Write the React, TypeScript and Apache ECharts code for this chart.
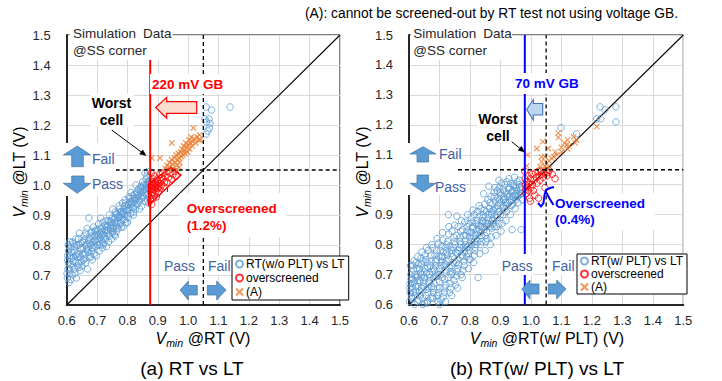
import React, { useEffect, useRef } from "react";
import * as echarts from "echarts";

const FONT = '"Liberation Sans", Arial, Helvetica, sans-serif';

const AXIS_MIN = 0.6;
const AXIS_MAX = 1.5;
const AXIS_STEP = 0.1;
const FAIL_LIMIT = 1.05;
const LEFT_GB_LINE = 0.875;
const RIGHT_GB_LINE = 0.98;
const DIAGONAL = [[0.6, 0.6], [1.5, 1.5]];

const leftBlue: number[][] = [
  [0.602,0.69],[0.604,0.72],[0.603,0.75],[0.606,0.78],[0.605,0.80],[0.608,0.675],[0.61,0.705],[0.612,0.735],[0.611,0.765],[0.614,0.79],
  [0.618,0.70],[0.62,0.73],[0.622,0.76],[0.619,0.81],[0.624,0.78],[0.626,0.72],[0.628,0.745],[0.63,0.82],[0.632,0.69],[0.634,0.77],
  [0.638,0.74],[0.64,0.80],[0.642,0.84],[0.644,0.715],[0.646,0.76],[0.648,0.785],[0.65,0.73],[0.652,0.81],[0.655,0.75],[0.657,0.83],
  [0.66,0.77],[0.662,0.74],[0.664,0.80],[0.667,0.855],[0.669,0.72],[0.671,0.79],[0.673,0.89],[0.675,0.76],[0.677,0.82],[0.68,0.84],
  [0.682,0.78],[0.684,0.75],[0.686,0.81],[0.688,0.86],[0.69,0.77],[0.692,0.83],[0.694,0.795],[0.696,0.85],[0.698,0.765],[0.70,0.82],
  [0.702,0.80],[0.705,0.87],[0.707,0.78],[0.709,0.84],[0.712,0.89],[0.714,0.815],[0.716,0.86],[0.718,0.79],[0.72,0.835],[0.722,0.805],
  [0.725,0.85],[0.727,0.82],[0.729,0.88],[0.731,0.795],[0.733,0.84],[0.735,0.865],[0.738,0.81],[0.74,0.90],[0.742,0.83],[0.744,0.855],
  [0.746,0.875],[0.748,0.82],[0.75,0.845],[0.752,0.92],[0.755,0.86],[0.757,0.835],[0.76,0.89],[0.762,0.87],[0.764,0.845],[0.766,0.905],
  [0.768,0.88],[0.77,0.855],[0.772,0.93],[0.775,0.895],[0.777,0.87],[0.78,0.91],[0.782,0.885],[0.784,0.94],[0.786,0.86],[0.788,0.92],
  [0.79,0.90],[0.792,0.95],[0.795,0.875],[0.797,0.93],[0.80,0.915],[0.802,0.89],[0.805,0.96],[0.807,0.94],[0.81,0.905],[0.812,0.975],
  [0.815,0.925],[0.817,0.95],[0.82,0.90],[0.822,0.94],[0.824,0.97],[0.826,0.92],[0.828,1.0],[0.83,0.955],[0.832,0.935],[0.835,0.985],
  [0.837,0.96],[0.84,0.945],[0.842,0.99],[0.845,0.975],[0.847,0.93],[0.85,1.01],[0.852,0.96],[0.855,0.985],[0.857,0.945],[0.86,1.0],
  [0.862,0.97],[0.864,1.03],[0.866,0.95],[0.868,0.99],[0.87,1.015],[0.872,0.96],[0.871,0.985],[0.858,1.04],[0.866,1.045],[0.87,0.94],
  [0.615,0.755],[0.625,0.795],[0.637,0.76],[0.645,0.79],[0.653,0.77],[0.66,0.82],[0.668,0.78],[0.676,0.805],[0.683,0.83],[0.69,0.80],
  [0.697,0.835],[0.703,0.85],[0.71,0.825],[0.717,0.845],[0.724,0.83],[0.73,0.86],[0.737,0.85],[0.743,0.88],[0.75,0.87],[0.756,0.885],
  [0.763,0.90],[0.77,0.89],[0.776,0.91],[0.783,0.905],[0.79,0.93],[0.796,0.915],[0.803,0.935],[0.81,0.945],[0.816,0.94],[0.823,0.955],
  [0.83,0.975],[0.836,0.965],[0.843,0.98],[0.85,0.99],[0.856,0.975],[0.863,1.0],[0.869,1.005],[0.872,1.01],[0.845,0.955],[0.8,0.875],
  [0.76,0.83],[0.72,0.80],[0.68,0.76],[0.64,0.725],[0.606,0.74],[0.61,0.81],[0.75,0.84],[0.78,0.86],[0.82,0.91],[0.84,0.92],
  [0.601,0.705],[0.603,0.765],[0.607,0.795],[0.609,0.72],[0.613,0.685],[0.616,0.775],[0.621,0.745],[0.623,0.805],[0.627,0.705],[0.629,0.765],
  [0.633,0.80],[0.636,0.73],[0.639,0.82],[0.641,0.77],[0.647,0.805],[0.649,0.745],[0.654,0.79],[0.656,0.815],[0.659,0.755],[0.663,0.84],
  [0.665,0.785],[0.672,0.815],[0.674,0.775],[0.679,0.80],[0.681,0.845],[0.685,0.79],[0.689,0.815],[0.693,0.845],[0.699,0.81],[0.704,0.835],
  [0.708,0.80],[0.711,0.855],[0.715,0.83],[0.719,0.875],[0.723,0.82],[0.726,0.865],[0.732,0.85],[0.736,0.88],[0.739,0.835],[0.745,0.865],
  [0.749,0.89],[0.753,0.855],[0.758,0.875],[0.761,0.91],[0.765,0.86],[0.769,0.895],[0.774,0.92],[0.778,0.875],[0.781,0.90],[0.787,0.91],
  [0.791,0.885],[0.794,0.94],[0.799,0.90],[0.804,0.92],[0.808,0.955],[0.813,0.935],[0.818,0.965],[0.821,0.925],[0.827,0.95],[0.833,0.97],
  [0.838,0.95],[0.844,0.995],[0.848,0.965],[0.853,1.0],[0.859,0.985],[0.861,1.02],[0.865,0.99],[0.867,1.01],[0.869,0.97],[0.873,1.0],
  [1.059,1.26],[1.077,1.25],[1.138,1.26],[1.055,1.22],[1.069,1.22],[1.06,1.21],[1.07,1.19],[1.059,1.17],[1.065,1.18],[1.072,1.205]
];

const leftRed: number[][] = [
  [0.877,0.95],[0.878,0.98],[0.879,1.0],[0.88,0.965],[0.881,1.01],[0.882,0.99],[0.883,0.975],[0.884,1.02],[0.885,0.955],[0.886,1.0],
  [0.887,0.985],[0.888,0.97],[0.89,1.03],[0.891,0.995],[0.892,1.01],[0.894,0.98],[0.895,0.96],[0.897,1.0],[0.898,1.02],[0.9,0.99],
  [0.902,0.975],[0.904,1.005],[0.906,1.035],[0.908,0.99],[0.91,1.015],[0.913,1.0],[0.916,1.04],[0.918,1.02],[0.92,0.995],[0.924,1.03],
  [0.928,1.045],[0.93,1.01],[0.935,1.025],[0.94,1.04],[0.945,1.02],[0.95,1.035],[0.955,1.045],[0.96,1.03],[0.878,1.04],[0.88,0.935],
  [0.889,1.005],[0.893,0.99],[0.899,1.012],[0.903,0.995],[0.912,1.025],[0.922,1.01]
];

const leftCross: number[][] = [
  [0.88,1.09],[0.907,1.09],[0.946,1.14],[1.017,1.19],[1.037,1.167],[1.04,1.15],
  [0.925,1.055],[0.93,1.065],[0.935,1.05],[0.938,1.075],[0.94,1.06],[0.945,1.085],[0.948,1.07],[0.95,1.055],[0.955,1.09],[0.958,1.075],
  [0.96,1.1],[0.962,1.065],[0.965,1.085],[0.968,1.105],[0.97,1.09],[0.972,1.075],[0.975,1.11],[0.978,1.095],[0.98,1.12],[0.983,1.1],
  [0.985,1.13],[0.988,1.115],[0.99,1.105],[0.992,1.14],[0.995,1.125],[0.998,1.11],[1.0,1.135],[1.003,1.15],[1.005,1.12],[1.008,1.14],
  [1.01,1.16],[1.013,1.13],[1.015,1.145],[1.02,1.155],[1.025,1.14],[1.03,1.16],[1.035,1.15],[0.96,1.05],[0.97,1.06]
];

const rightBlue: number[][] = [
  [0.602,0.61],[0.604,0.64],[0.603,0.67],[0.606,0.70],[0.605,0.73],[0.608,0.625],[0.61,0.655],[0.612,0.685],[0.614,0.715],[0.616,0.745],
  [0.618,0.60],[0.62,0.63],[0.622,0.66],[0.624,0.69],[0.626,0.72],[0.628,0.76],[0.632,0.615],[0.634,0.645],[0.636,0.675],[0.638,0.705],
  [0.64,0.735],[0.642,0.775],[0.645,0.62],[0.647,0.66],[0.65,0.69],[0.652,0.72],[0.655,0.75],[0.657,0.79],[0.66,0.605],[0.662,0.64],
  [0.664,0.675],[0.667,0.70],[0.67,0.73],[0.672,0.765],[0.675,0.80],[0.677,0.625],[0.68,0.655],[0.682,0.69],[0.684,0.715],[0.687,0.745],
  [0.69,0.78],[0.692,0.82],[0.695,0.61],[0.697,0.64],[0.70,0.675],[0.702,0.70],[0.704,0.73],[0.706,0.76],[0.708,0.795],[0.71,0.84],
  [0.712,0.625],[0.715,0.655],[0.717,0.685],[0.72,0.715],[0.722,0.745],[0.724,0.775],[0.727,0.81],[0.729,0.90],[0.731,0.86],[0.733,0.64],
  [0.735,0.67],[0.738,0.70],[0.74,0.73],[0.742,0.76],[0.745,0.79],[0.747,0.825],[0.75,0.865],[0.752,0.665],[0.755,0.695],[0.757,0.895],
  [0.76,0.72],[0.762,0.75],[0.764,0.78],[0.767,0.81],[0.77,0.845],[0.772,0.88],[0.775,0.69],[0.777,0.715],[0.78,0.745],[0.782,0.775],
  [0.785,0.80],[0.787,0.83],[0.79,0.86],[0.792,0.90],[0.795,0.72],[0.797,0.75],[0.80,0.78],[0.802,0.81],[0.805,0.84],[0.807,0.875],
  [0.81,0.915],[0.812,0.74],[0.815,0.765],[0.817,0.79],[0.82,0.82],[0.822,0.85],[0.825,0.88],[0.827,0.69],[0.83,0.93],[0.832,0.77],
  [0.835,0.80],[0.837,0.83],[0.84,0.86],[0.842,0.89],[0.845,0.97],[0.847,0.915],[0.85,0.78],[0.852,0.81],[0.855,0.84],[0.857,0.87],
  [0.86,0.90],[0.862,0.995],[0.865,0.94],[0.867,0.80],[0.87,0.825],[0.872,0.855],[0.875,0.885],[0.877,0.915],[0.88,0.96],[0.882,0.99],
  [0.885,0.83],[0.887,0.86],[0.89,0.89],[0.892,0.92],[0.895,1.015],[0.897,0.95],[0.90,0.975],[0.902,0.845],[0.905,0.87],[0.908,0.90],
  [0.91,0.93],[0.912,0.96],[0.915,1.0],[0.918,0.88],[0.92,0.91],[0.923,0.94],[0.925,0.97],[0.928,1.02],[0.93,0.99],[0.933,0.90],
  [0.936,0.93],[0.938,0.85],[0.94,0.96],[0.943,0.995],[0.946,1.025],[0.948,0.92],[0.95,0.95],[0.953,0.98],[0.955,1.01],[0.958,0.94],
  [0.96,0.965],[0.963,0.99],[0.965,0.97],[0.968,0.85],[0.97,0.995],[0.972,0.95],
  [0.61,0.67],[0.62,0.70],[0.63,0.66],[0.64,0.69],[0.65,0.71],[0.66,0.74],[0.67,0.68],[0.68,0.72],[0.69,0.75],[0.70,0.72],
  [0.71,0.76],[0.72,0.79],[0.73,0.75],[0.74,0.78],[0.75,0.81],[0.76,0.77],[0.77,0.80],[0.78,0.83],[0.79,0.79],[0.80,0.84],
  [0.81,0.86],[0.82,0.80],[0.83,0.85],[0.84,0.88],[0.85,0.83],[0.86,0.87],[0.87,0.91],[0.88,0.86],[0.89,0.93],[0.90,0.90],
  [0.91,0.95],[0.92,0.93],[0.93,0.96],[0.94,0.98],[0.95,0.97],[0.96,1.0],[0.615,0.64],[0.635,0.72],[0.655,0.63],[0.675,0.66],
  [0.695,0.70],[0.715,0.73],[0.735,0.71],[0.755,0.74],[0.775,0.76],[0.795,0.77],[0.815,0.81],[0.835,0.84],[0.855,0.86],[0.875,0.88],
  [0.895,0.87],[0.915,0.92],[0.935,0.95],[0.70,0.60],[0.72,0.61],[0.74,0.63],[0.66,0.61],[0.68,0.62],[0.645,0.60],[0.76,0.655],
  [0.603,0.655],[0.607,0.685],[0.611,0.62],[0.613,0.73],[0.617,0.675],[0.621,0.645],[0.623,0.74],[0.627,0.61],[0.629,0.695],[0.631,0.735],
  [0.633,0.68],[0.637,0.63],[0.639,0.755],[0.641,0.655],[0.643,0.70],[0.646,0.745],[0.648,0.675],[0.651,0.605],[0.653,0.765],[0.656,0.65],
  [0.658,0.705],[0.661,0.725],[0.663,0.78],[0.665,0.655],[0.668,0.69],[0.671,0.62],[0.673,0.745],[0.676,0.71],[0.678,0.79],[0.681,0.64],
  [0.683,0.67],[0.685,0.765],[0.688,0.73],[0.691,0.695],[0.693,0.63],[0.696,0.805],[0.698,0.76],[0.701,0.655],[0.703,0.78],[0.705,0.615],
  [0.707,0.745],[0.709,0.69],[0.711,0.815],[0.713,0.775],[0.716,0.64],[0.718,0.735],[0.721,0.665],[0.723,0.80],[0.726,0.765],[0.728,0.69],
  [0.73,0.835],[0.732,0.725],[0.734,0.795],[0.737,0.655],[0.739,0.77],[0.741,0.845],[0.743,0.705],[0.746,0.74],[0.748,0.68],[0.751,0.80],
  [0.753,0.775],[0.756,0.83],[0.758,0.71],[0.761,0.86],[0.763,0.735],[0.766,0.79],[0.768,0.825],[0.771,0.70],[0.773,0.765],[0.776,0.85],
  [0.778,0.79],[0.781,0.73],[0.783,0.875],[0.786,0.815],[0.789,0.76],[0.791,0.845],[0.794,0.795],[0.796,0.87],[0.799,0.825],[0.801,0.75],
  [0.804,0.89],[0.806,0.80],[0.809,0.855],[0.811,0.83],[0.814,0.90],[0.816,0.78],[0.819,0.87],[0.821,0.835],[0.824,0.91],[0.826,0.81],
  [0.829,0.865],[0.831,0.895],[0.834,0.86],[0.836,0.92],[0.839,0.81],[0.841,0.875],[0.844,0.90],[0.846,0.85],[0.849,0.935],[0.851,0.875],
  [0.854,0.91],[0.856,0.82],[0.859,0.95],[0.861,0.885],[0.864,0.92],[0.866,0.86],[0.869,0.96],[0.871,0.90],[0.874,0.935],[0.876,0.87],
  [0.879,0.975],[0.881,0.92],[0.884,0.945],[0.886,0.895],[0.889,0.98],[0.891,0.955],[0.894,0.91],[0.896,0.99],[0.899,0.94],[0.901,0.965],
  [0.904,1.005],[0.906,0.925],[0.909,0.985],[0.911,0.95],[0.914,0.975],[0.917,0.94],[0.921,1.01],[0.924,0.96],[0.927,0.985],[0.931,0.945],
  [0.934,1.005],[0.937,0.975],[0.941,0.935],[0.944,1.0],[0.947,0.965],[0.952,0.99],[0.956,0.96],[0.962,1.015],[0.966,0.985],[0.971,0.97],
  [1.099,1.19],[1.15,1.17],[1.227,1.26],[1.243,1.25],[1.279,1.26],[1.279,1.21],[1.216,1.22],[1.229,1.22]
];

const rightRed: number[][] = [
  [0.98,1.045],[0.981,1.02],[0.982,1.0],[0.983,0.985],[0.984,0.97],[0.986,1.01],[0.988,0.995],[0.99,1.03],[0.992,0.98],[0.994,1.005],
  [0.996,0.955],[0.998,1.02],[1.0,0.99],[1.003,1.035],[1.005,1.0],[1.008,0.98],[1.01,1.015],[1.013,0.965],[1.015,1.04],[1.018,1.025],
  [1.02,1.005],[1.024,1.045],[1.027,1.03],[1.03,1.015],[1.033,1.045],[1.036,1.035],[1.04,1.025],[1.043,1.04],[1.046,0.99],[1.05,1.045],
  [1.053,1.03],[1.056,1.04],[1.06,1.047],[1.079,1.02],[1.07,1.035],[0.998,0.945],[1.025,0.955]
];

const rightCross: number[][] = [
  [0.989,1.10],[0.986,1.063],[1.019,1.121],[1.039,1.144],[1.057,1.121],[1.035,1.093],[1.09,1.172],[1.09,1.158],[1.117,1.133],[1.101,1.11],
  [1.15,1.149],[1.216,1.194],[1.046,1.093],[1.068,1.088],[1.035,1.077],[1.052,1.071],[1.03,1.06],[1.045,1.062],[1.06,1.08],[1.075,1.095],
  [1.08,1.11],[1.1,1.125],[1.11,1.14],[1.125,1.13],[1.14,1.16],[1.145,1.14],[1.06,1.055],[1.04,1.052],[1.085,1.1],[1.12,1.12],[1.12,1.15]
];

const BLUE_PT = "#5B9BD5";
const RED_PT = "#FF0000";
const ORANGE_PT = "#ED7D31";
const TEXT_BLUE = "#3F62A6";
const ARROW_FILL = "#5B9BD5";
const ARROW_STROKE = "#41719C";
const CROSS = "path://M0,0L10,10M10,0L0,10";

function poly(points: number[][], fill: string, stroke: string, lw: number, z = 120) {
  return { type: "polygon", z, silent: true, shape: { points }, style: { fill, stroke, lineWidth: lw } };
}
function rect(x: number, y: number, w: number, h: number, z = 105) {
  return { type: "rect", z, silent: true, shape: { x, y, width: w, height: h }, style: { fill: "#ffffff" } };
}
function txt(x: number, y: number, text: string, o: any = {}) {
  return {
    type: "text", z: 130, silent: true, x, y, rotation: o.rotation || 0,
    style: {
      text, fill: o.color || "#000", fontSize: o.size || 13, fontFamily: FONT,
      fontWeight: o.weight || "normal", fontStyle: o.style || "normal",
      align: o.align || "left", textAlign: o.align || "left",
      verticalAlign: "middle", textVerticalAlign: "middle",
      rich: o.rich,
    },
  };
}
function pointer(x1: number, y1: number, x2: number, y2: number) {
  const dx = x2 - x1, dy = y2 - y1;
  const len = Math.sqrt(dx * dx + dy * dy);
  const ux = dx / len, uy = dy / len;
  const hl = 6, hw = 2.6;
  const bx = x2 - ux * hl, by = y2 - uy * hl;
  return [
    { type: "line", z: 125, silent: true, shape: { x1, y1, x2: bx, y2: by }, style: { stroke: "#000", lineWidth: 1 } },
    poly([[x2, y2], [bx - uy * hw, by + ux * hw], [bx + uy * hw, by - ux * hw]], "#000", "#000", 0.5, 125),
  ];
}
function axisTitle(x: number, y: number, rest: string, rotation = 0) {
  const c = "#000";
  return txt(x, y, `{v|V}{s|min}{n|${rest}}`, {
    align: "center", rotation,
    rich: {
      v: { fontSize: 16, fontStyle: "italic", fontFamily: FONT, fill: c, color: c, lineHeight: 20 },
      s: { fontSize: 10.5, fontStyle: "italic", fontFamily: FONT, fill: c, color: c, lineHeight: 13, verticalAlign: "bottom" },
      n: { fontSize: 16, fontFamily: FONT, fill: c, color: c, lineHeight: 20 },
    },
  });
}

function makeAxis(gridIndex: number, isX: boolean) {
  return {
    type: "value", gridIndex, min: AXIS_MIN, max: AXIS_MAX, interval: AXIS_STEP,
    axisLine: { show: true, onZero: false, lineStyle: { color: "#262626", width: 2 } },
    axisTick: { show: false },
    splitLine: { show: true, lineStyle: { color: "#D9D9D9", width: 1 } },
    axisLabel: {
      formatter: (v: number) => v.toFixed(1), fontSize: 13, fontFamily: FONT, color: "#262626",
      margin: isX ? 9 : 16,
    },
  };
}

function scatterSeries(name: string, data: number[][], idx: number, kind: string) {
  const base: any = {
    type: "scatter", name, data, xAxisIndex: idx, yAxisIndex: idx, z: 3, silent: true,
  };
  if (kind === "blue") {
    return { ...base, symbol: "circle", symbolSize: 6.5, itemStyle: { color: "rgba(0,0,0,0)", borderColor: BLUE_PT, borderWidth: 1 } };
  }
  if (kind === "red") {
    return { ...base, z: 4, symbol: "circle", symbolSize: 6.5, itemStyle: { color: "rgba(0,0,0,0)", borderColor: RED_PT, borderWidth: 1 } };
  }
  return { ...base, z: 4, symbol: CROSS, symbolSize: 5.5, itemStyle: { color: "rgba(0,0,0,0)", borderColor: ORANGE_PT, borderWidth: 1.1 } };
}

function lineSeries(data: number[][], idx: number, color: string, width: number, type: any, z: number) {
  return {
    type: "line", data, xAxisIndex: idx, yAxisIndex: idx, symbol: "none", silent: true, z,
    lineStyle: { color, width, type }, animation: false,
  };
}

export default function App() {
  const ref = useRef<HTMLDivElement>(null);
  useEffect(() => {
    if (!ref.current) return;
    const chart = echarts.init(ref.current, undefined, { renderer: "svg" });
    const dashed = [4, 3];
    const graphic: any[] = [
      // top note
      txt(305, 13, "(A): cannot be screened-out by RT test not using voltage GB.", { size: 13.8 }),

      // ---------- LEFT PANEL ----------
      rect(69.5, 27, 103, 33),
      txt(73, 33.5, "Simulation", { size: 13.5, color: "#262626" }),
      txt(143, 33.5, "Data", { size: 13.5, color: "#262626" }),
      txt(73, 50.5, "@SS corner", { size: 13.5, color: "#262626" }),
      rect(150, 74, 78, 20),
      txt(152, 84, "220 mV GB", { size: 13.5, weight: "bold", color: "#FF0000" }),
      poly([[155.7, 107.5], [166.7, 97.3], [166.7, 101.7], [196.7, 101.7], [196.7, 113.3], [166.7, 113.3], [166.7, 118.3]], "#FBDDD0", "#FF0000", 1.2),
      rect(90, 94, 44, 33),
      txt(111.5, 103, "Worst", { size: 14, weight: "bold", align: "center" }),
      txt(111.5, 119.5, "cell", { size: 14, weight: "bold", align: "center" }),
      ...pointer(111.7, 130, 146, 155.5),
      rect(60, 143, 56, 53),
      poly([[77.3, 146], [90.7, 155], [83.3, 155], [83.3, 166.7], [71.7, 166.7], [71.7, 155], [63.3, 155]], ARROW_FILL, ARROW_STROKE, 0.7),
      poly([[71.7, 176], [84, 176], [84, 183.3], [90.7, 183.3], [77.3, 193.3], [63.3, 183.3], [71.7, 183.3]], ARROW_FILL, ARROW_STROKE, 0.7),
      txt(92, 158.5, "Fail", { size: 14, color: TEXT_BLUE }),
      txt(92, 183.5, "Pass", { size: 14, color: TEXT_BLUE }),
      poly([[148.5, 184], [171, 167.5], [181, 175], [148.5, 205]], "none", "#FF0000", 1.4),
      { type: "line", z: 120, silent: true, shape: { x1: 167.5, y1: 188, x2: 167.5, y2: 192 }, style: { stroke: "#FF0000", lineWidth: 1 } },
      rect(180, 193, 107, 44),
      txt(186.7, 208.5, "Overscreened", { size: 13.5, weight: "bold", color: "#FF0000" }),
      txt(186.7, 225.5, "(1.2%)", { size: 13.5, weight: "bold", color: "#FF0000" }),
      rect(161, 256, 35, 19),
      rect(206, 256, 25, 19),
      txt(164, 265.5, "Pass", { size: 14, color: TEXT_BLUE }),
      txt(208, 265.5, "Fail", { size: 14, color: TEXT_BLUE }),
      poly([[180, 290], [188.3, 281], [188.3, 285.5], [197.3, 285.5], [197.3, 295], [188.3, 295], [188.3, 300]], ARROW_FILL, ARROW_STROKE, 0.7),
      poly([[207.3, 285.5], [216.7, 285.5], [216.7, 281], [226, 290], [216.7, 300], [216.7, 295], [207.3, 295]], ARROW_FILL, ARROW_STROKE, 0.7),
      axisTitle(19, 172, " @LT (V)", Math.PI / 2),
      axisTitle(203, 338.5, " @RT (V)"),
      txt(192, 368, "(a) RT vs LT", { size: 19, align: "center" }),

      // ---------- RIGHT PANEL ----------
      rect(411, 27, 101, 33),
      txt(413.3, 33.5, "Simulation", { size: 13.5, color: "#262626" }),
      txt(483.3, 33.5, "Data", { size: 13.5, color: "#262626" }),
      txt(413.3, 50.5, "@SS corner", { size: 13.5, color: "#262626" }),
      rect(512, 73, 71, 21),
      txt(515, 83.5, "70 mV GB", { size: 13.5, weight: "bold", color: "#0000FF" }),
      poly([[526.7, 109.5], [533.3, 99.5], [533.3, 103.5], [542.7, 103.5], [542.7, 115], [533.3, 115], [533.3, 120]], "#BDD7EE", "#4472C4", 1.1),
      rect(477, 110, 43, 33),
      txt(498, 119, "Worst", { size: 14, weight: "bold", align: "center" }),
      txt(498, 135.5, "cell", { size: 14, weight: "bold", align: "center" }),
      ...pointer(511.7, 141.7, 524.5, 152),
      rect(407, 143, 50, 52),
      poly([[423, 146.7], [436, 154], [428.5, 154], [428.5, 162], [417, 162], [417, 154], [410, 154]], ARROW_FILL, ARROW_STROKE, 0.7),
      poly([[417, 175], [428.5, 175], [428.5, 183.3], [436, 183.3], [423, 192], [410, 183.3], [417, 183.3]], ARROW_FILL, ARROW_STROKE, 0.7),
      txt(439, 153.5, "Fail", { size: 14, color: TEXT_BLUE }),
      txt(435, 187, "Pass", { size: 14, color: TEXT_BLUE }),
      { type: "polyline", z: 120, silent: true, shape: { points: [[538, 203], [541, 206.5], [543.5, 203], [544.5, 195], [546, 190], [550, 188], [554, 187]] }, style: { stroke: "#0000FF", lineWidth: 2, fill: "none" } },
      { type: "polyline", z: 120, silent: true, shape: { points: [[546, 192], [549.5, 198.5], [553.5, 205]] }, style: { stroke: "#0000FF", lineWidth: 2, fill: "none" } },
      rect(552, 193, 103, 37),
      txt(555, 203, "Overscreened", { size: 13.5, weight: "bold", color: "#0000FF" }),
      txt(555, 219.5, "(0.4%)", { size: 13.5, weight: "bold", color: "#0000FF" }),
      rect(499, 254, 35, 21),
      rect(550, 256, 25, 19),
      txt(501.7, 265.5, "Pass", { size: 14, color: TEXT_BLUE }),
      txt(552, 265.5, "Fail", { size: 14, color: TEXT_BLUE }),
      poly([[521.7, 289], [530, 280], [530, 284], [539, 284], [539, 294], [530, 294], [530, 299]], ARROW_FILL, ARROW_STROKE, 0.7),
      poly([[548.3, 284], [556.7, 284], [556.7, 280], [566, 289], [556.7, 299], [556.7, 294], [548.3, 294]], ARROW_FILL, ARROW_STROKE, 0.7),
      axisTitle(362, 172, " @LT (V)", Math.PI / 2),
      axisTitle(547, 338.5, " @RT(w/ PLT) (V)"),
      txt(537, 368, "(b) RT(w/ PLT) vs LT", { size: 19, align: "center" }),
    ];

    const legendCommon = {
      orient: "vertical", itemWidth: 7, itemHeight: 7,
      borderColor: "#000", borderWidth: 1, backgroundColor: "#fff",
      selectedMode: false, z: 50,
    };

    chart.setOption({
      animation: false,
      backgroundColor: "#ffffff",
      grid: [
        { left: 66.7, top: 35, width: 273.3, height: 270, show: true, borderColor: "#000", borderWidth: 1, backgroundColor: "transparent" },
        { left: 409, top: 35, width: 274.3, height: 269.5, show: true, borderColor: "#000", borderWidth: 1, backgroundColor: "transparent" },
      ],
      xAxis: [makeAxis(0, true), makeAxis(1, true)],
      yAxis: [makeAxis(0, false), makeAxis(1, false)],
      legend: [
        {
          ...legendCommon, left: 232, top: 256, itemGap: 2, padding: [2, 4, 2, 3],
          textStyle: { fontSize: 12, fontFamily: FONT, color: "#000", lineHeight: 12, padding: [0, 0, 0, -2] },
          data: ["RT(w/o PLT) vs LT", "overscreened", "(A)"],
        },
        {
          ...legendCommon, left: 577, top: 254, itemGap: 1, padding: [1, 4, 1, 3],
          textStyle: { fontSize: 12, fontFamily: FONT, color: "#000", lineHeight: 12, padding: [0, 0, 0, -2] },
          data: ["RT(w/ PLT) vs LT", "overscreened", "(A)"],
        },
      ],
      series: [
        lineSeries(DIAGONAL, 0, "#000", 1.1, "solid", 1),
        scatterSeries("RT(w/o PLT) vs LT", leftBlue, 0, "blue"),
        scatterSeries("overscreened", leftRed, 0, "red"),
        scatterSeries("(A)", leftCross, 0, "cross"),
        lineSeries([[FAIL_LIMIT, AXIS_MIN], [FAIL_LIMIT, AXIS_MAX]], 0, "#000", 1.3, dashed, 6),
        lineSeries([[AXIS_MIN, FAIL_LIMIT], [AXIS_MAX, FAIL_LIMIT]], 0, "#000", 1.3, dashed, 6),
        lineSeries([[LEFT_GB_LINE, AXIS_MIN], [LEFT_GB_LINE, AXIS_MAX]], 0, "#FF0000", 2, "solid", 7),

        lineSeries(DIAGONAL, 1, "#000", 1.1, "solid", 1),
        scatterSeries("RT(w/ PLT) vs LT", rightBlue, 1, "blue"),
        scatterSeries("overscreened", rightRed, 1, "red"),
        scatterSeries("(A)", rightCross, 1, "cross"),
        lineSeries([[FAIL_LIMIT, AXIS_MIN], [FAIL_LIMIT, AXIS_MAX]], 1, "#000", 1.3, dashed, 6),
        lineSeries([[AXIS_MIN, FAIL_LIMIT], [AXIS_MAX, FAIL_LIMIT]], 1, "#000", 1.3, dashed, 6),
        lineSeries([[RIGHT_GB_LINE, AXIS_MIN], [RIGHT_GB_LINE, AXIS_MAX]], 1, "#0000FF", 2, "solid", 7),
      ],
      graphic,
    });
    return () => chart.dispose();
  }, []);
  return (
    <div
      ref={ref}
      style={{ position: "fixed", left: 0, top: 0, width: 722, height: 381, background: "#fff" }}
    />
  );
}
